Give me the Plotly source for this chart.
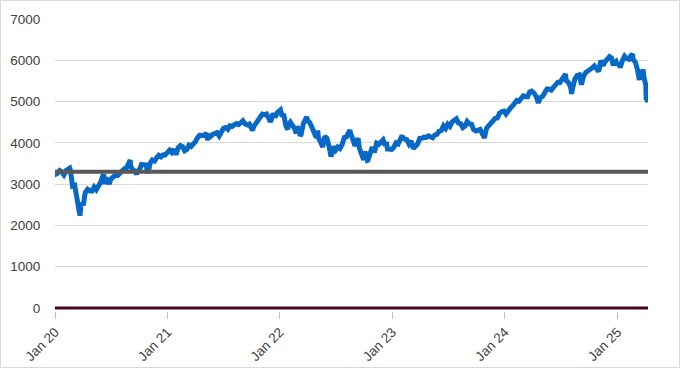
import plotly.graph_objects as go

# ---- data (approximate S&P 500 closes, weekly plus key daily extremes) ----
dates_2020 = ["2020-01-02","2020-01-03","2020-01-10","2020-01-17","2020-01-24","2020-01-31","2020-02-07","2020-02-14",
              "2020-02-19","2020-02-21","2020-02-28","2020-03-06","2020-03-13","2020-03-20","2020-03-23","2020-03-27",
              "2020-04-03","2020-04-09","2020-04-17","2020-04-24","2020-05-01","2020-05-08","2020-05-15","2020-05-22",
              "2020-05-29","2020-06-05","2020-06-08","2020-06-11","2020-06-12","2020-06-19","2020-06-26","2020-07-02",
              "2020-07-10","2020-07-17","2020-07-24","2020-07-31","2020-08-07","2020-08-14","2020-08-21","2020-08-28",
              "2020-09-02","2020-09-04","2020-09-11","2020-09-18","2020-09-23","2020-09-25","2020-10-02","2020-10-09",
              "2020-10-16","2020-10-23","2020-10-30","2020-11-06","2020-11-13","2020-11-20","2020-11-27","2020-12-04",
              "2020-12-11","2020-12-18","2020-12-24","2020-12-31"]
close_2020 = [3258,3235,3265,3330,3295,3225,3328,3380,
              3386,3338,2954,2972,2711,2305,2237,2541,
              2489,2790,2875,2837,2831,2930,2864,2955,
              3044,3194,3232,3002,3041,3098,3009,3130,
              3185,3225,3216,3271,3351,3373,3397,3508,
              3580,3427,3341,3319,3237,3298,3348,3477,
              3484,3465,3270,3510,3585,3558,3638,3699,
              3663,3709,3703,3756]

dates_2021 = ["2021-01-08","2021-01-15","2021-01-22","2021-01-29","2021-02-05","2021-02-12","2021-02-19","2021-02-26",
              "2021-03-05","2021-03-12","2021-03-19","2021-03-26","2021-04-01","2021-04-09","2021-04-16","2021-04-23",
              "2021-04-30","2021-05-07","2021-05-12","2021-05-14","2021-05-21","2021-05-28","2021-06-04","2021-06-11",
              "2021-06-18","2021-06-25","2021-07-02","2021-07-09","2021-07-16","2021-07-23","2021-07-30","2021-08-06",
              "2021-08-13","2021-08-20","2021-08-27","2021-09-03","2021-09-10","2021-09-17","2021-09-24","2021-10-01",
              "2021-10-04","2021-10-08","2021-10-15","2021-10-22","2021-10-29","2021-11-05","2021-11-12","2021-11-19",
              "2021-11-26","2021-12-01","2021-12-03","2021-12-10","2021-12-17","2021-12-23","2021-12-31"]
close_2021 = [3824,3768,3841,3714,3887,3934,3907,3811,
              3842,3943,3913,3975,4020,4129,4185,4180,
              4181,4233,4063,4174,4156,4204,4230,4247,
              4166,4281,4352,4370,4327,4412,4395,4437,
              4468,4442,4509,4535,4459,4433,4455,4357,
              4300,4391,4471,4545,4605,4697,4683,4698,
              4595,4513,4538,4712,4620,4726,4766]

dates_2022 = ["2022-01-03","2022-01-07","2022-01-14","2022-01-21","2022-01-27","2022-01-28","2022-02-04","2022-02-11",
              "2022-02-18","2022-02-23","2022-02-25","2022-03-04","2022-03-08","2022-03-11","2022-03-18","2022-03-25",
              "2022-03-29","2022-04-01","2022-04-08","2022-04-14","2022-04-22","2022-04-29","2022-05-04","2022-05-06",
              "2022-05-13","2022-05-20","2022-05-27","2022-06-03","2022-06-10","2022-06-16","2022-06-24","2022-07-01",
              "2022-07-08","2022-07-15","2022-07-22","2022-07-29","2022-08-05","2022-08-12","2022-08-16","2022-08-19",
              "2022-08-26","2022-09-02","2022-09-09","2022-09-12","2022-09-16","2022-09-23","2022-09-30","2022-10-04",
              "2022-10-07","2022-10-12","2022-10-14","2022-10-21","2022-10-28","2022-11-04","2022-11-11","2022-11-18",
              "2022-11-25","2022-11-30","2022-12-02","2022-12-09","2022-12-13","2022-12-16","2022-12-23","2022-12-30"]
close_2022 = [4796,4677,4663,4398,4327,4432,4500,4419,
              4349,4226,4385,4329,4171,4204,4463,4543,
              4632,4546,4488,4393,4272,4132,4300,4123,
              4024,3901,4158,4109,3901,3667,3912,3825,
              3899,3863,3962,4130,4145,4280,4305,4228,
              4058,3924,4067,4110,3873,3693,3586,3791,
              3640,3577,3583,3752,3901,3771,3993,3965,
              4026,4080,4072,3934,4020,3852,3845,3840]

dates_2023 = ["2023-01-06","2023-01-13","2023-01-20","2023-01-27","2023-02-02","2023-02-03","2023-02-10","2023-02-17",
              "2023-02-24","2023-03-03","2023-03-10","2023-03-17","2023-03-24","2023-03-31","2023-04-06","2023-04-14",
              "2023-04-21","2023-04-28","2023-05-05","2023-05-12","2023-05-19","2023-05-26","2023-06-02","2023-06-09",
              "2023-06-16","2023-06-23","2023-06-30","2023-07-07","2023-07-14","2023-07-21","2023-07-28","2023-08-04",
              "2023-08-11","2023-08-18","2023-08-25","2023-09-01","2023-09-08","2023-09-15","2023-09-22","2023-09-29",
              "2023-10-06","2023-10-13","2023-10-20","2023-10-27","2023-11-03","2023-11-10","2023-11-17","2023-11-24",
              "2023-12-01","2023-12-08","2023-12-15","2023-12-22","2023-12-29"]
close_2023 = [3895,3999,3973,4071,4180,4136,4090,4079,
              3970,4046,3862,3917,3971,4109,4105,4138,
              4133,4169,4136,4124,4192,4205,4282,4299,
              4410,4348,4450,4399,4505,4536,4582,4478,
              4464,4370,4406,4516,4457,4450,4320,4288,
              4309,4327,4224,4117,4358,4415,4514,4559,
              4595,4604,4719,4755,4770]

dates_2024 = ["2024-01-05","2024-01-12","2024-01-19","2024-01-26","2024-02-02","2024-02-09","2024-02-16","2024-02-23",
              "2024-03-01","2024-03-08","2024-03-15","2024-03-22","2024-03-28","2024-04-05","2024-04-12","2024-04-19",
              "2024-04-26","2024-05-03","2024-05-10","2024-05-17","2024-05-24","2024-05-31","2024-06-07","2024-06-14",
              "2024-06-21","2024-06-28","2024-07-05","2024-07-12","2024-07-16","2024-07-19","2024-07-26","2024-08-02",
              "2024-08-05","2024-08-09","2024-08-16","2024-08-23","2024-08-30","2024-09-06","2024-09-13","2024-09-20",
              "2024-09-27","2024-10-04","2024-10-11","2024-10-18","2024-10-25","2024-11-01","2024-11-08","2024-11-15",
              "2024-11-22","2024-11-29","2024-12-06","2024-12-13","2024-12-18","2024-12-20","2024-12-27","2024-12-31"]
close_2024 = [4697,4784,4840,4891,4959,5027,5006,5089,
              5137,5124,5117,5234,5254,5204,5123,4967,
              5100,5128,5223,5303,5305,5278,5347,5431,
              5465,5460,5567,5615,5667,5505,5459,5346,
              5186,5344,5554,5635,5648,5408,5626,5703,
              5738,5751,5815,5865,5808,5729,5996,5871,
              5969,6032,6090,6051,5872,5931,5971,5882]

dates_2025 = ["2025-01-03","2025-01-10","2025-01-17","2025-01-24","2025-01-31","2025-02-07","2025-02-14","2025-02-19",
              "2025-02-21","2025-02-28","2025-03-07","2025-03-13","2025-03-14","2025-03-21","2025-03-25","2025-03-28",
              "2025-04-03","2025-04-04","2025-04-07","2025-04-08","2025-04-09","2025-04-10"]
close_2025 = [5942,5827,5997,6101,6041,6026,6115,6144,
              6013,5955,5770,5522,5639,5667,5777,5581,
              5397,5074,5062,4983,5457,5268]

reference_level = 3300
zero_level = 0

tick_dates = ["2020-01-02","2021-01-01","2022-01-01","2023-01-01","2024-01-01","2025-01-01"]
tick_labels = ["Jan 20","Jan 21","Jan 22","Jan 23","Jan 24","Jan 25"]
y_ticks = [0,1000,2000,3000,4000,5000,6000,7000]

# ---- build ----
dates = dates_2020 + dates_2021 + dates_2022 + dates_2023 + dates_2024 + dates_2025
close = close_2020 + close_2021 + close_2022 + close_2023 + close_2024 + close_2025

fig = go.Figure()
fig.add_trace(go.Scatter(x=dates, y=close, mode="lines",
                         line=dict(color="#0868c6", width=5), hoverinfo="skip"))
fig.add_trace(go.Scatter(x=[dates[0], dates[-1]], y=[reference_level, reference_level], mode="lines",
                         line=dict(color="#595959", width=4), hoverinfo="skip"))
fig.add_trace(go.Scatter(x=[dates[0], dates[-1]], y=[zero_level, zero_level], mode="lines",
                         line=dict(color="#4a0612", width=3), hoverinfo="skip"))

W, H = 681, 369
L, R, T = 55, 33, 19
zero_px = 308                      # pixel row of the 0 value
px_per_unit = (zero_px - T) / 7000
B = 58                              # a little room below 0 so the zero line is not clipped
y_low = -(H - B - zero_px) / px_per_unit
pw, ph = W - L - R, H - T - B

fig.update_layout(
    width=W, height=H,
    margin=dict(l=L, r=R, t=T, b=B, autoexpand=False),
    paper_bgcolor="white", plot_bgcolor="white",
    showlegend=False,
    font=dict(family="Liberation Sans, Arial, sans-serif", color="#595959", size=13),
    xaxis=dict(type="date", range=[dates[0], dates[-1]],
               tickvals=tick_dates, ticktext=tick_labels, tickangle=-45,
               showgrid=False, zeroline=False, showline=False,
               ticks="outside", ticklen=7, tickcolor="#bfbfbf", tickwidth=1,
               tickfont=dict(size=13.5, color="#404040")),
    yaxis=dict(range=[y_low, 7000], tickvals=y_ticks, showgrid=True, gridcolor="#d9d9d9", gridwidth=1,
               zeroline=False, showline=False, ticks="outside", ticklen=11, tickcolor="rgba(0,0,0,0)",
               tickfont=dict(size=13.5, color="#404040")),
    shapes=[dict(type="rect", xref="paper", yref="paper",
                 x0=(0.5 - L) / pw, x1=(W - 1.5 - L) / pw,
                 y0=(H - B - (H - 1.5)) / ph, y1=(H - B - 0.5) / ph,
                 line=dict(color="#d9d9d9", width=1), layer="below")],
)

fig.write_html("out.html", config={"displayModeBar": False},
               post_script="document.body.style.margin='0';document.body.style.padding='0';")
